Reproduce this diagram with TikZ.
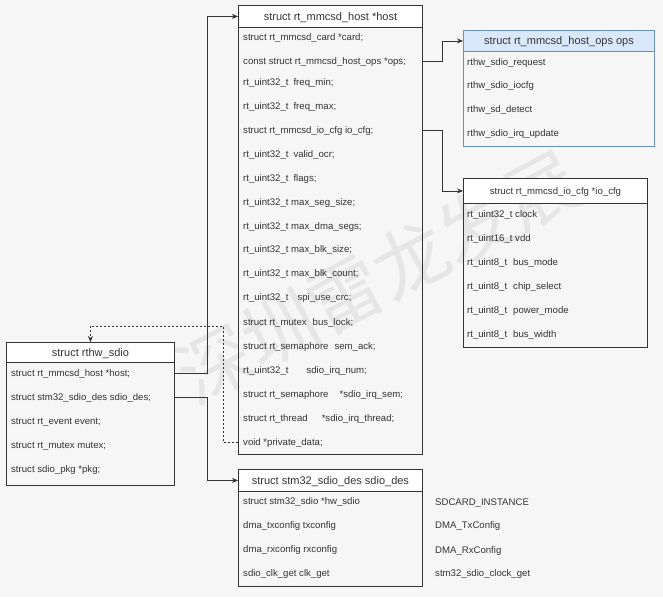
\documentclass[tikz,border=0pt]{standalone}
\usepackage{fontspec}
\setmainfont{Liberation Sans}
\newfontfamily\cjkwm{Noto Sans CJK SC}
\usetikzlibrary{arrows.meta}
\definecolor{bgc}{HTML}{F6F6F6}
\definecolor{ink}{HTML}{333333}
\definecolor{wmc}{HTML}{E6E6E6}
\definecolor{bluefill}{HTML}{DAE8FC}
\definecolor{blueline}{HTML}{6C8EBF}
\newcommand\gp[1]{\hspace*{#1pt}}
\begin{document}
\begin{tikzpicture}[x=1pt,y=-1pt,
  hdr/.style={draw=ink,line width=0.9pt,fill=white,anchor=north west,inner sep=0pt,text=ink,
    font=\fontsize{11}{12}\selectfont,text height=8pt,text depth=0pt},
  body/.style={draw=ink,line width=0.9pt,anchor=north west,inner sep=0pt},
  row/.style={anchor=west,inner sep=0pt,text=ink,
    font=\fontsize{9.6}{11}\selectfont,text height=7pt,text depth=1pt},
  conn/.style={draw=ink,line width=0.8pt,-{Stealth[length=6pt,width=5pt]}},
]
\useasboundingbox (0,0) rectangle (663,597);
\fill[bgc] (0,0) rectangle (663,597);

% watermark
\node[text=wmc,rotate=28,font=\cjkwm\fontsize{74}{74}\selectfont,inner sep=0pt] (wm) at (378,277) {深圳雷龙发展};

% ---------- host box ----------
\node[hdr,minimum width=184pt,minimum height=22pt] (hosth) at (238,5) {struct rt\_mmcsd\_host *host};
\node[body,minimum width=184pt,minimum height=427pt] (hostb) at (238,27) {};
\node[row] (h1) at (243,37) {struct rt\_mmcsd\_card *card;};
\node[row] (h2) at (243,61) {const struct rt\_mmcsd\_host\_ops *ops;};
\node[row] (h3) at (243,82) {rt\_uint32\_t\gp{5}freq\_min;};
\node[row] (h4) at (243,106) {rt\_uint32\_t\gp{5}freq\_max;};
\node[row] (h5) at (243,130) {struct rt\_mmcsd\_io\_cfg io\_cfg;};
\node[row] (h6) at (243,154) {rt\_uint32\_t\gp{5}valid\_ocr;};
\node[row] (h7) at (243,178) {rt\_uint32\_t\gp{5}flags;};
\node[row] (h8) at (243,202) {rt\_uint32\_t max\_seg\_size;};
\node[row] (h9) at (243,226) {rt\_uint32\_t max\_dma\_segs;};
\node[row] (h10) at (243,249) {rt\_uint32\_t max\_blk\_size;};
\node[row] (h11) at (243,273) {rt\_uint32\_t max\_blk\_count;};
\node[row] (h12) at (243,297) {rt\_uint32\_t\gp{9}spi\_use\_crc;};
\node[row] (h13) at (243,322) {struct rt\_mutex\gp{6}bus\_lock;};
\node[row] (h14) at (243,346) {struct rt\_semaphore\gp{6}sem\_ack;};
\node[row] (h15) at (243,370) {rt\_uint32\_t\gp{18}sdio\_irq\_num;};
\node[row] (h16) at (243,394) {struct rt\_semaphore\gp{11}*sdio\_irq\_sem;};
\node[row] (h17) at (243,418) {struct rt\_thread\gp{14}*sdio\_irq\_thread;};
\node[row] (h18) at (243,442) {void *private\_data;};

% ---------- ops box ----------
\node[hdr,draw=blueline,fill=bluefill,minimum width=191pt,minimum height=21pt] (opsh) at (463,30) {struct rt\_mmcsd\_host\_ops ops};
\node[body,draw=blueline,minimum width=191pt,minimum height=95pt] (opsb) at (463,51) {};
\node[row] (o1) at (467,62) {rthw\_sdio\_request};
\node[row] (o2) at (467,85) {rthw\_sdio\_iocfg};
\node[row] (o3) at (467,109) {rthw\_sd\_detect};
\node[row] (o4) at (467,133) {rthw\_sdio\_irq\_update};

% ---------- io_cfg box ----------
\node[hdr,font=\fontsize{9.6}{11}\selectfont,text height=7pt,minimum width=184pt,minimum height=25pt] (ioh) at (463,178) {struct rt\_mmcsd\_io\_cfg *io\_cfg};
\node[body,minimum width=184pt,minimum height=144pt] (iob) at (463,203) {};
\node[row] (c1) at (467,214) {rt\_uint32\_t clock};
\node[row] (c2) at (467,238) {rt\_uint16\_t vdd};
\node[row] (c3) at (467,262) {rt\_uint8\_t\gp{6}bus\_mode};
\node[row] (c4) at (467,286) {rt\_uint8\_t\gp{6}chip\_select};
\node[row] (c5) at (467,310) {rt\_uint8\_t\gp{6}power\_mode};
\node[row] (c6) at (467,334) {rt\_uint8\_t\gp{6}bus\_width};

% ---------- rthw_sdio box ----------
\node[hdr,minimum width=168pt,minimum height=20pt] (sdioh) at (6,342) {struct rthw\_sdio};
\node[body,minimum width=168pt,minimum height=123pt] (sdiob) at (6,362) {};
\node[row] (s1) at (11,373) {struct rt\_mmcsd\_host *host;};
\node[row] (s2) at (11,397) {struct stm32\_sdio\_des sdio\_des;};
\node[row] (s3) at (11,421) {struct rt\_event event;};
\node[row] (s4) at (11,445) {struct rt\_mutex mutex;};
\node[row] (s5) at (11,469) {struct sdio\_pkg *pkg;};

% ---------- sdio_des box ----------
\node[hdr,minimum width=184pt,minimum height=22pt] (desh) at (238,469) {struct stm32\_sdio\_des sdio\_des};
\node[body,minimum width=184pt,minimum height=95pt] (desb) at (238,491) {};
\node[row] (d1) at (243,501) {struct stm32\_sdio *hw\_sdio};
\node[row] (d2) at (243,525) {dma\_txconfig txconfig};
\node[row] (d3) at (243,549) {dma\_rxconfig rxconfig};
\node[row] (d4) at (243,573) {sdio\_clk\_get clk\_get};

% free labels
\node[row] (v1) at (435,502) {SDCARD\_INSTANCE};
\node[row] (v2) at (435,525) {DMA\_TxConfig};
\node[row] (v3) at (435,550) {DMA\_RxConfig};
\node[row] (v4) at (435,573) {stm32\_sdio\_clock\_get};

% ---------- connectors ----------
\coordinate (j1) at (207,0);
\coordinate (j2) at (442,0);
\coordinate (j3) at (223,326);
\draw[conn] (sdiob.east |- s1) -- (j1 |- s1) |- (hosth.west);
\draw[conn] (sdiob.east |- s2) -- (j1 |- s2) |- (desh.west);
\draw[conn] (hostb.east |- h2) -- (j2 |- h2) |- (opsh.west);
\draw[conn] (hostb.east |- h5) -- (j2 |- h5) |- (ioh.west);
\draw[conn,line width=0.7pt,dash pattern=on 2pt off 2pt] (hostb.west |- h18) -| (j3) -| (sdioh.north);
\end{tikzpicture}
\end{document}
